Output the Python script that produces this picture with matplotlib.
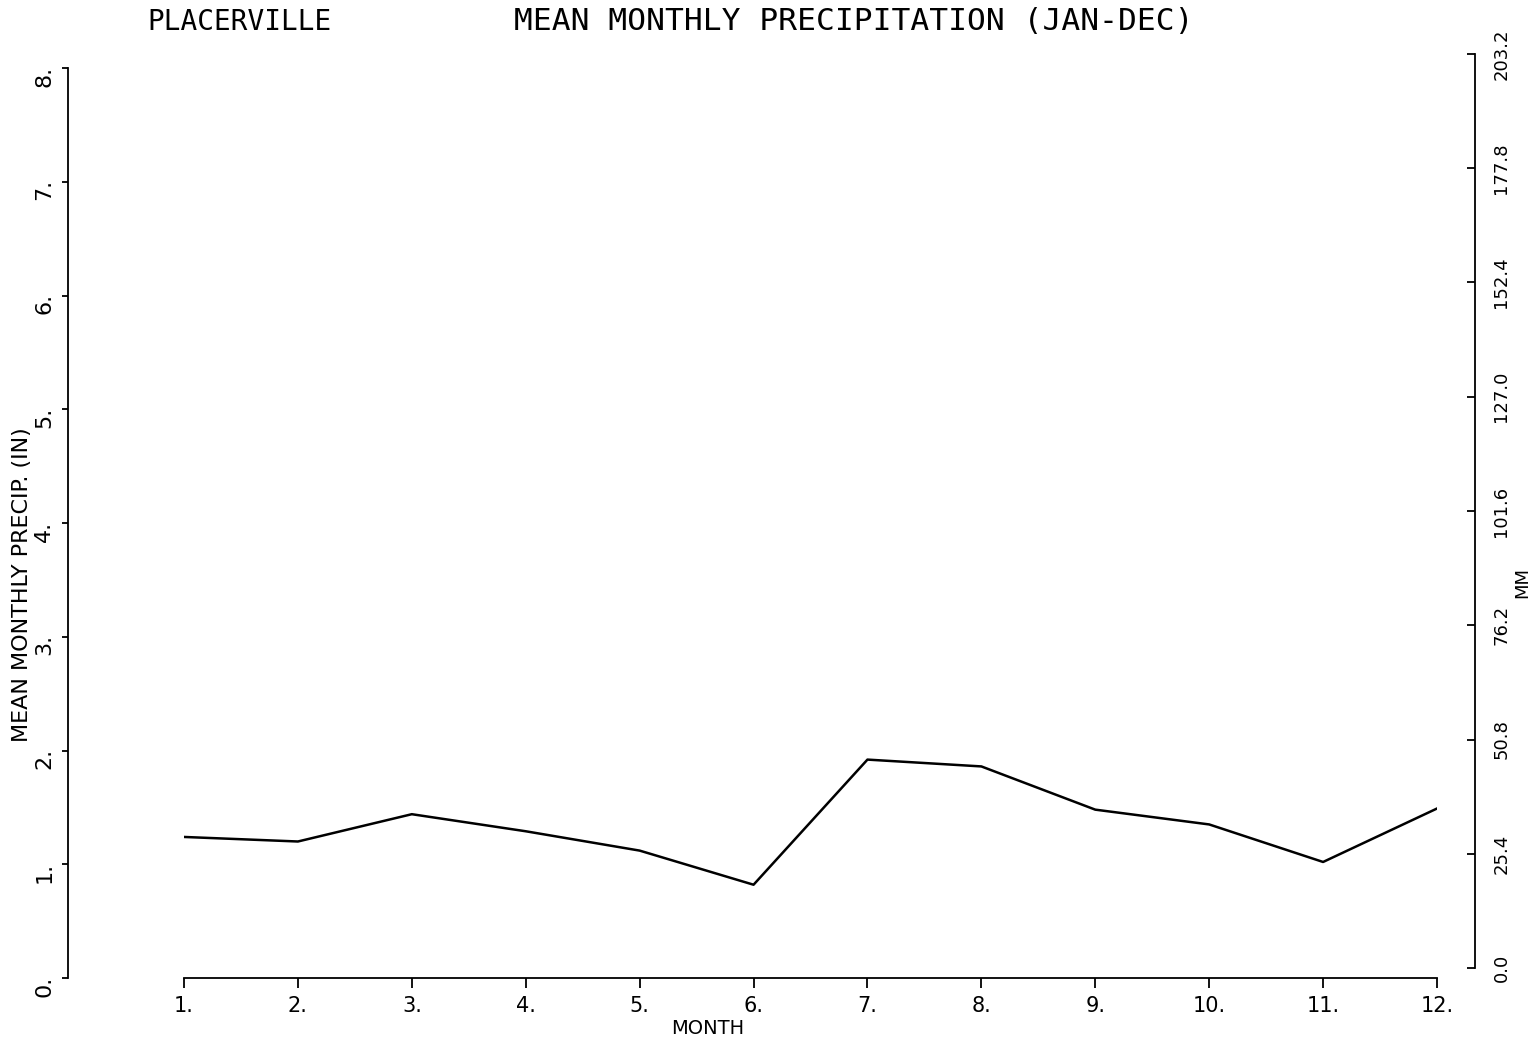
import matplotlib
matplotlib.use("Agg")
import matplotlib.pyplot as plt
import matplotlib.transforms as mtransforms

months = [1, 2, 3, 4, 5, 6, 7, 8, 9, 10, 11, 12]
precip_in = [1.24, 1.20, 1.44, 1.29, 1.12, 0.82, 1.92, 1.86, 1.48, 1.35, 1.02, 1.49]
x_ticklabels = ["1.", "2.", "3.", "4.", "5.", "6.", "7.", "8.", "9.", "10.", "11.", "12."]
in_ticks = [0, 1, 2, 3, 4, 5, 6, 7, 8]
in_ticklabels = ["0.", "1.", "2.", "3.", "4.", "5.", "6.", "7.", "8."]
mm_ticks = [0.0, 25.4, 50.8, 76.2, 101.6, 127.0, 152.4, 177.8, 203.2]
mm_ticklabels = ["0.0", "25.4", "50.8", "76.2", "101.6", "127.0", "152.4", "177.8", "203.2"]

plt.rcParams['font.family'] = ['DejaVu Sans']
W, H = 1532, 1041
fig = plt.figure(figsize=(W / 100, H / 100), dpi=100)

def px(x0, y_top, x1, y_bot):
    return [x0 / W, 1 - y_bot / H, (x1 - x0) / W, (y_bot - y_top) / H]

ax = fig.add_axes(px(184, 68, 1437, 978))
ax.plot(months, precip_in, color='black', lw=1.8)
ax.set_xlim(1, 12)
ax.set_ylim(0, 8)
ax.patch.set_visible(False)
for s in ['top', 'right']:
    ax.spines[s].set_visible(False)
ax.spines['left'].set_position(('outward', 116 * 0.72))
ax.spines['left'].set_linewidth(1.3)
ax.spines['bottom'].set_linewidth(1.3)
ax.set_xticks(months)
ax.set_xticklabels(x_ticklabels, fontsize=15)
ax.tick_params(axis='x', direction='out', length=7, width=1.3, pad=6)
ax.set_yticks(in_ticks)
ax.set_yticklabels(in_ticklabels, fontsize=16, rotation=90, va='center', ha='center')
ax.tick_params(axis='y', direction='out', length=4, width=1.3, pad=13)
off = mtransforms.ScaledTranslation(0, -8 / 100, fig.dpi_scale_trans)
for lab in ax.get_yticklabels():
    lab.set_transform(lab.get_transform() + off)

ax2 = fig.add_axes(px(184, 54, 1475, 968))
ax2.patch.set_visible(False)
for s in ['top', 'left', 'bottom']:
    ax2.spines[s].set_visible(False)
ax2.spines['right'].set_linewidth(1.3)
ax2.set_xticks([])
ax2.set_ylim(0, 203.2)
ax2.yaxis.tick_right()
ax2.set_yticks(mm_ticks)
ax2.set_yticklabels(mm_ticklabels, fontsize=13, rotation=90, va='center', ha='center')
ax2.tick_params(axis='y', direction='in', length=6, width=1.3, pad=19)

fig.text(239 / W, 1 - 22 / H, "PLACERVILLE", fontsize=20, ha='center', va='center',
         family='DejaVu Sans Mono')
fig.text(854 / W, 1 - 22 / H, "MEAN MONTHLY PRECIPITATION (JAN-DEC)", fontsize=22.5,
         ha='center', va='center', family='DejaVu Sans Mono')
fig.text(708 / W, 1 - 1028 / H, "MONTH", fontsize=14, ha='center', va='center')
fig.text(22 / W, 1 - 585 / H, "MEAN MONTHLY PRECIP. (IN)", fontsize=16, rotation=90,
         ha='center', va='center')
fig.text(1522 / W, 1 - 583 / H, "MM", fontsize=13, rotation=90, ha='center', va='center')

fig.savefig("out.png", dpi=100)
